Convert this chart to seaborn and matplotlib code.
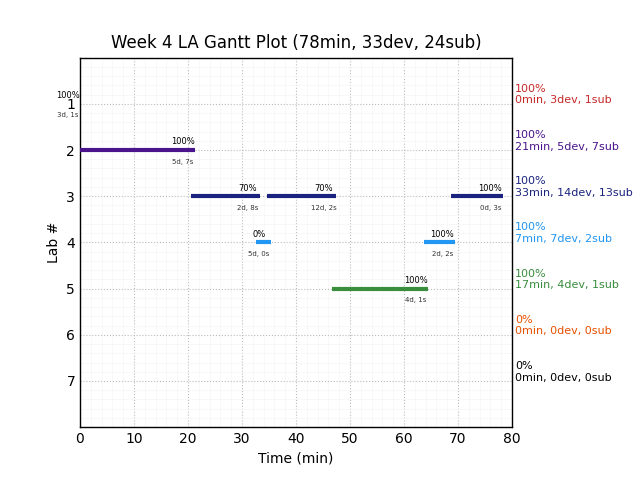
import numpy as np
import pandas as pd
import matplotlib
matplotlib.use('Agg')
import matplotlib.pyplot as plt
import seaborn as sns
from matplotlib.ticker import MultipleLocator

# ── Data ──────────────────────────────────────────────────────────────────────
labs        = [1, 2, 3, 4, 5, 6, 7]
lab_colors  = ['#c62828', '#4a148c', '#1a237e', '#2196f3', '#388e3c', '#e65100', '#000000']
lab_pct     = ['100%', '100%', '100%', '100%', '100%', '0%', '0%']
lab_summary = ['0min, 3dev, 1sub', '21min, 5dev, 7sub', '33min, 14dev, 13sub',
               '7min, 7dev, 2sub', '17min, 4dev, 1sub', '0min, 0dev, 0sub',
               '0min, 0dev, 0sub']

seg_lab   = [1, 2, 3, 3, 3, 4, 4, 5]
seg_start = [0, 0, 20.6, 34.6, 68.7, 32.6, 63.7, 46.6]
seg_end   = [0, 21.3, 33.3, 47.4, 78.3, 35.4, 69.4, 64.5]
seg_pct   = ['100%', '100%', '70%', '70%', '100%', '0%', '100%', '100%']
seg_info  = ['3d, 1s', '5d, 7s', '2d, 8s', '12d, 2s', '0d, 3s', '5d, 0s', '2d, 2s', '4d, 1s']

segs = pd.DataFrame({'Lab': seg_lab, 'Start': seg_start, 'End': seg_end,
                     'Pct': seg_pct, 'Info': seg_info})

# ── Plot ──────────────────────────────────────────────────────────────────────
sns.set_theme(style='white')
plt.rcParams['font.family'] = ['DejaVu Sans']
plt.rcParams['text.color'] = 'black'

fig, ax = plt.subplots(figsize=(6.4, 4.8), dpi=100)
fig.subplots_adjust(left=0.125, right=0.8, bottom=0.11, top=0.88)

for _, r in segs.iterrows():
    c = lab_colors[labs.index(r['Lab'])]
    if r['End'] > r['Start']:
        ax.hlines(r['Lab'], r['Start'], r['End'], color=c, linewidth=3, zorder=3)
    ax.text(r['End'] - 2.3, r['Lab'] - 0.08, r['Pct'], ha='center', va='bottom',
            fontsize=6, color='black')
    ax.text(r['End'] - 2.3, r['Lab'] + 0.25, r['Info'], ha='center', va='center',
            fontsize=5, color='#333333')

for lab, c, p, s in zip(labs, lab_colors, lab_pct, lab_summary):
    ax.text(80.6, lab - 0.2, f'{p}\n{s}', ha='left', va='center',
            fontsize=8, color=c, clip_on=False)

ax.set_xlim(0, 80)
ax.set_ylim(8, 0)
ax.set_yticks(labs)
ax.xaxis.set_minor_locator(MultipleLocator(2))
ax.yaxis.set_minor_locator(MultipleLocator(0.2))
ax.grid(which='major', color='#bbbbbb', linestyle=':', linewidth=0.8)
ax.grid(which='minor', color='#f5f5f5', linestyle='-', linewidth=0.5)
ax.set_axisbelow(True)
ax.tick_params(axis='both', which='both', length=0, labelsize=10, colors='black')
for sp in ax.spines.values():
    sp.set_color('black')
    sp.set_linewidth(1)

ax.set_title('Week 4 LA Gantt Plot (78min, 33dev, 24sub)', fontsize=12, color='black', pad=7)
ax.set_xlabel('Time (min)', fontsize=10, color='black')
ax.set_ylabel('Lab #', fontsize=10, color='black')

plt.savefig('out.png', dpi=100)
plt.close()
